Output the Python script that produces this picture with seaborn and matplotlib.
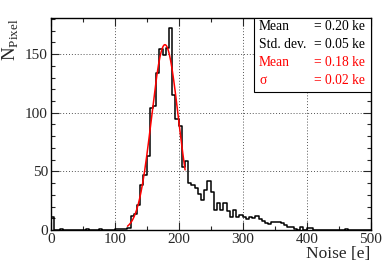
import numpy as np
import pandas as pd
import matplotlib
matplotlib.use('Agg')
import matplotlib.pyplot as plt
import seaborn as sns
from matplotlib.ticker import MultipleLocator
from matplotlib.patches import Rectangle

# histogram of pixel noise, 5 e bins from 0 to 500
bin_width = 5
bin_low = np.arange(0, 500, bin_width)
counts = [11, 0, 0, 1, 0, 0, 0, 0, 0, 0,
          0, 1, 0, 0, 0, 1, 0, 0, 0, 0,
          1, 1, 1, 1, 2, 12, 14, 21, 38, 47,
          63, 104, 106, 134, 154, 149, 155, 172, 115, 95,
          89, 54, 59, 40, 38, 36, 31, 26, 34, 42,
          32, 17, 23, 17, 23, 16, 11, 17, 11, 13,
          11, 9, 11, 10, 12, 9, 8, 6, 5, 7,
          7, 7, 6, 4, 3, 3, 1, 0, 3, 0,
          2, 2, 0, 0, 0, 0, 0, 0, 0, 0,
          0, 0, 1, 0, 0, 0, 0, 0, 0, 0]

# gaussian fit shown in red
fit_amp = 158
fit_mean = 178.5
fit_sigma = 21
fit_lo, fit_hi = 120, 210

stat_names = ["Mean", "Std. dev.", "Mean", "\u03c3"]
stat_values = ["= 0.20 ke", "= 0.05 ke", "= 0.18 ke", "= 0.02 ke"]
stat_colors = ["black", "black", "red", "red"]

df = pd.DataFrame({"noise": bin_low + bin_width / 2, "n": counts})
xf = np.linspace(fit_lo, fit_hi, 200)
fit = pd.DataFrame({"x": xf, "y": fit_amp * np.exp(-0.5 * ((xf - fit_mean) / fit_sigma) ** 2)})

sns.set_style("ticks")
plt.rcParams['font.family'] = ['Liberation Serif', 'DejaVu Serif']
plt.rcParams['mathtext.fontset'] = 'custom'
plt.rcParams['mathtext.rm'] = 'Liberation Serif'

fig = plt.figure(figsize=(3.9, 2.65), dpi=100)
ax = fig.add_axes([0.13, 0.132, 0.8205, 0.799])

sns.histplot(data=df, x="noise", weights="n", binwidth=bin_width, binrange=(0, 500),
             element="step", fill=False, color="black", linewidth=1.1, ax=ax)
sns.lineplot(data=fit, x="x", y="y", color="red", linewidth=1.1, ax=ax)

ax.set_xlim(0, 500)
ax.set_ylim(0, 180.5)
ax.xaxis.set_major_locator(MultipleLocator(100))
ax.xaxis.set_minor_locator(MultipleLocator(50))
ax.yaxis.set_major_locator(MultipleLocator(50))
ax.yaxis.set_minor_locator(MultipleLocator(10))
ax.tick_params(which="both", direction="in", top=True, right=True, labelsize=11, pad=2)
ax.tick_params(which="major", length=6, width=0.8)
ax.tick_params(which="minor", length=3, width=0.8)
ax.grid(True, which="major", color="#555555", linestyle=(0, (1, 2)), linewidth=0.7)
ax.set_axisbelow(True)
for s in ax.spines.values():
    s.set_linewidth(1.0)
    s.set_color("black")

ax.set_xlabel("Noise [e]", fontsize=12.5, labelpad=0)
ax.xaxis.set_label_coords(1.0, -0.075)
ax.xaxis.label.set_horizontalalignment("right")
ax.xaxis.label.set_verticalalignment("top")
ax.set_ylabel(r"N$_{\mathrm{Pixel}}$", fontsize=13.5)
ax.yaxis.set_label_coords(-0.155, 1.0)
ax.yaxis.label.set_horizontalalignment("right")
ax.yaxis.label.set_verticalalignment("top")

# stats box
ax.add_patch(Rectangle((0.634, 0.652), 0.366, 0.348, transform=ax.transAxes,
                       facecolor="white", edgecolor="black", linewidth=0.8, zorder=5))
rows_y = [0.959, 0.874, 0.789, 0.704]
for name, val, c, yy in zip(stat_names, stat_values, stat_colors, rows_y):
    ax.text(0.651, yy, name, color=c, fontsize=9.8, va="center", ha="left",
            transform=ax.transAxes, zorder=6)
    ax.text(0.982, yy, val, color=c, fontsize=9.8, va="center", ha="right",
            transform=ax.transAxes, zorder=6)

fig.savefig("out.png", dpi=100)
